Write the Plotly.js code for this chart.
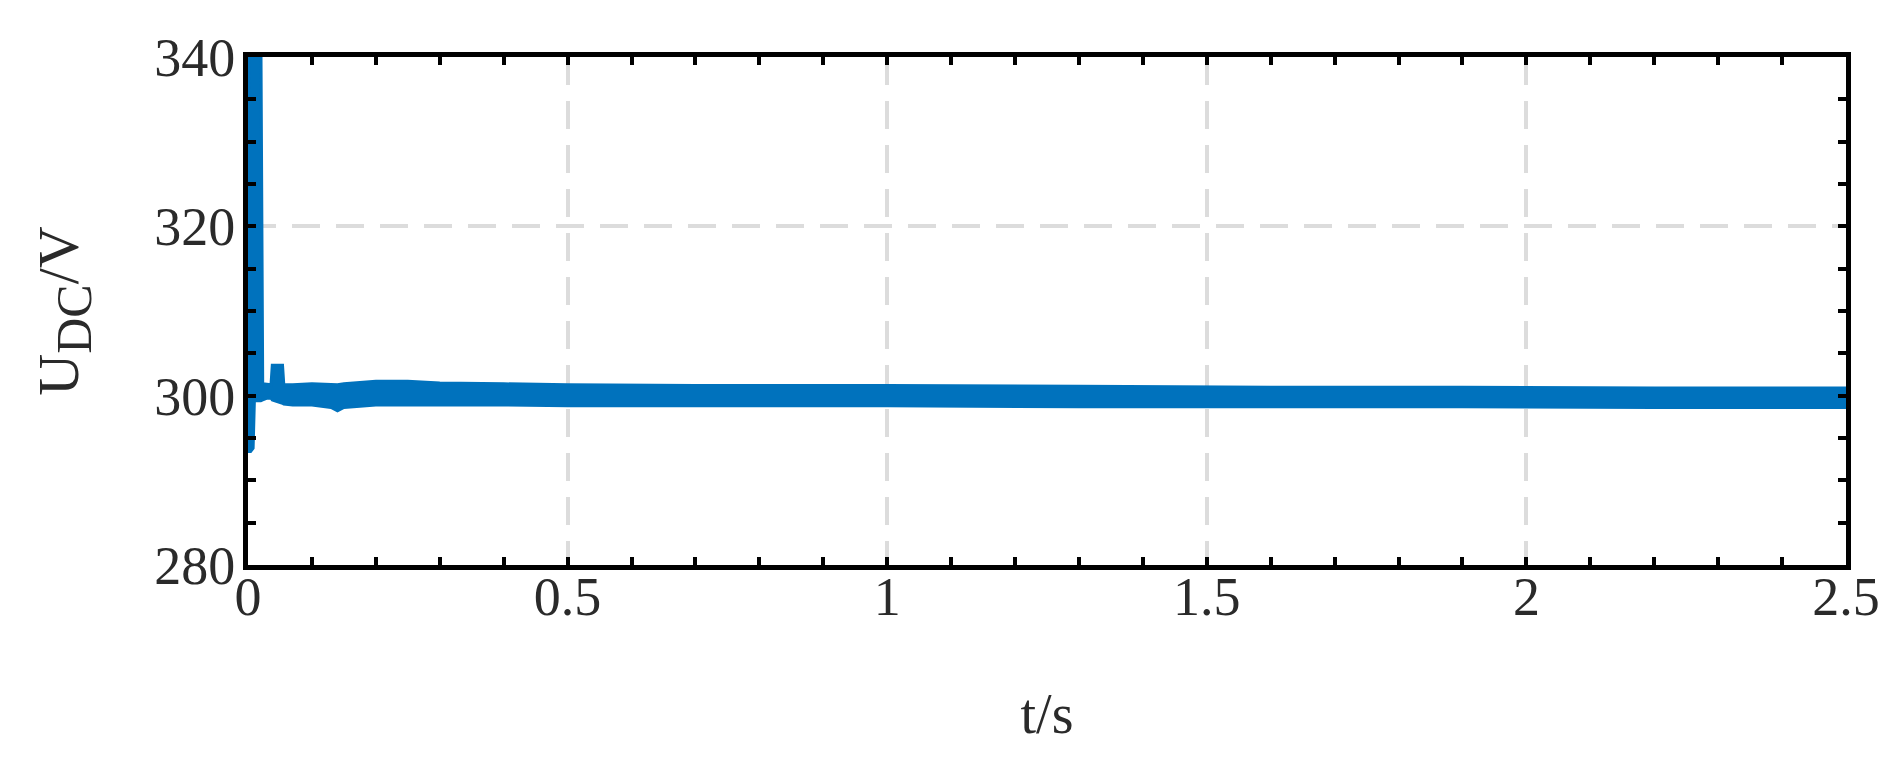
<!DOCTYPE html>
<html>
<head>
<meta charset="utf-8">
<script src="https://cdn.plot.ly/plotly-3.0.1.min.js"></script>
<style>
html,body{margin:0;padding:0;background:#fff;}
#chart{width:1903px;height:773px;}
</style>
</head>
<body>
<div id="chart"></div>
<script>
// Time samples (s) for the envelope of the DC-link voltage band
var timeS = [0, 0.001, 0.004, 0.008, 0.010, 0.020, 0.023, 0.030, 0.036, 0.038, 0.054, 0.056, 0.07, 0.10, 0.13, 0.14, 0.15, 0.20, 0.25, 0.30, 0.40, 0.50, 0.70, 1.00, 1.30, 1.60, 1.90, 2.20, 2.50];
// Upper envelope of U_DC (V)
var udcUpper = [300.2, 345, 345, 345, 345, 345, 301.4, 301.3, 301.3, 303.6, 303.6, 301.3, 301.3, 301.4, 301.3, 301.3, 301.4, 301.7, 301.7, 301.5, 301.4, 301.3, 301.2, 301.2, 301.1, 301.0, 301.0, 300.9, 300.9];
// Lower envelope of U_DC (V)
var udcLower = [299.6, 293.4, 293.4, 293.8, 299.4, 299.4, 299.5, 299.7, 299.7, 299.5, 299.1, 299.0, 298.9, 298.9, 298.6, 298.2, 298.6, 298.9, 298.9, 298.9, 298.9, 298.8, 298.8, 298.8, 298.7, 298.7, 298.7, 298.6, 298.6];

var xTickVals = [0, 0.5, 1, 1.5, 2, 2.5];
var xTickText = ["0", "0.5", "1", "1.5", "2", "2.5"];
var yTickVals = [280, 300, 320, 340];
var yTickText = ["280", "300", "320", "340"];

var blue = '#0072BD';
var traces = [
  {x: timeS, y: udcLower, mode: 'lines', line: {color: blue, width: 3}, hoverinfo: 'skip', showlegend: false},
  {x: timeS, y: udcUpper, mode: 'lines', line: {color: blue, width: 3}, fill: 'tonexty', fillcolor: blue, hoverinfo: 'skip', showlegend: false}
];

var fontFam = '"Liberation Serif", "DejaVu Serif", serif';
var txtColor = '#2a2a2a';
var axisCommon = {
  showline: true, linecolor: '#000', linewidth: 5, mirror: 'allticks',
  ticks: 'inside', ticklen: 8, tickwidth: 4, tickcolor: '#000',
  showgrid: true, gridcolor: '#dcdcdc', gridwidth: 4, griddash: '28px,16px',
  zeroline: false,
  tickfont: {family: fontFam, size: 54, color: txtColor}
};

var layout = {
  width: 1903, height: 773,
  margin: {l: 248, r: 57, t: 57, b: 208},
  paper_bgcolor: '#fff', plot_bgcolor: '#fff',
  showlegend: false,
  xaxis: Object.assign({}, axisCommon, {
    range: [0, 2.5], tickmode: 'array', tickvals: xTickVals, ticktext: xTickText,
    minor: {dtick: 0.1, tick0: 0, ticks: 'inside', ticklen: 8, tickwidth: 4, tickcolor: '#000', showgrid: false},
    ticklabelstandoff: -20,
    title: {text: 't/s', font: {family: fontFam, size: 56, color: txtColor}, standoff: 70}
  }),
  yaxis: Object.assign({}, axisCommon, {
    range: [280, 340], tickmode: 'array', tickvals: yTickVals, ticktext: yTickText,
    minor: {dtick: 5, tick0: 280, ticks: 'inside', ticklen: 8, tickwidth: 4, tickcolor: '#000', showgrid: false},
    ticklabelstandoff: -3,
    title: {text: 'U<sub><span style="font-size:50px">DC</span></sub>/V', font: {family: fontFam, size: 58, color: txtColor}, standoff: 58}
  })
};

Plotly.newPlot('chart', traces, layout, {staticPlot: true, displayModeBar: false});
</script>
</body>
</html>
